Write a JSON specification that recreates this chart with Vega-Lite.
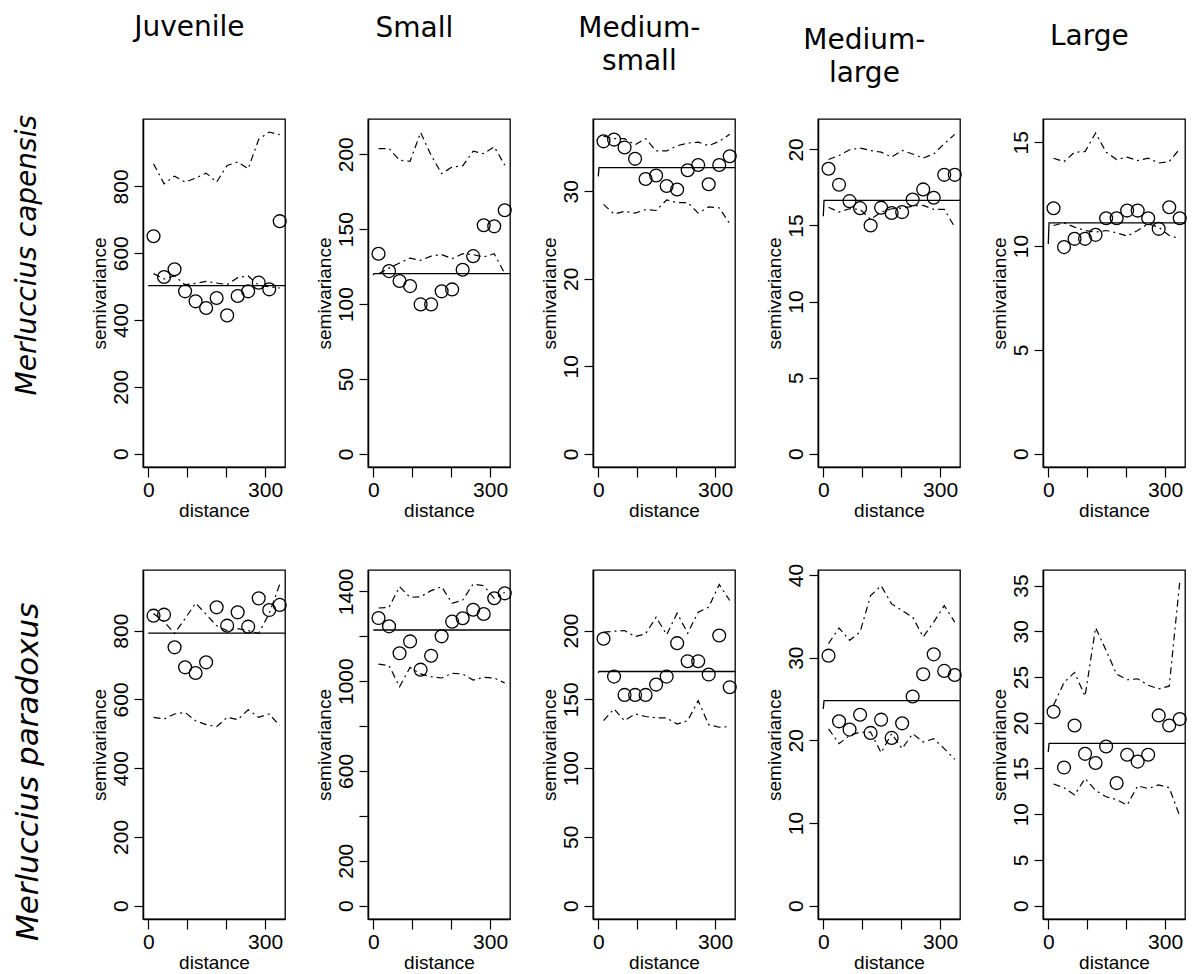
{
"$schema":"https://vega.github.io/schema/vega-lite/v6.json",
"background":"white",
"autosize":{"type":"pad"},
"padding":{"left":13,"top":13,"right":3,"bottom":0},
"spacing":40,
"datasets":{
"bins":[
{"p":"a1","d":13.5,"g":651,"u":868,"l":539},{"p":"a1","d":40.5,"g":529,"u":808,"l":523},{"p":"a1","d":67.5,"g":552,"u":831,"l":532},{"p":"a1","d":94.5,"g":486,"u":813,"l":506},{"p":"a1","d":121.5,"g":456,"u":825,"l":510},{"p":"a1","d":148.5,"g":436,"u":840,"l":516},{"p":"a1","d":175.5,"g":466,"u":813,"l":511},{"p":"a1","d":202.5,"g":414,"u":863,"l":506},{"p":"a1","d":229.5,"g":472,"u":873,"l":527},{"p":"a1","d":256.5,"g":486,"u":853,"l":532},{"p":"a1","d":283.5,"g":512,"u":941,"l":504},{"p":"a1","d":310.5,"g":492,"u":963,"l":500},{"p":"a1","d":337.5,"g":696,"u":955,"l":496},
{"p":"a2","d":13.5,"g":133.6,"u":203.8,"l":120.3},{"p":"a2","d":40.5,"g":122,"u":203.8,"l":124},{"p":"a2","d":67.5,"g":115.4,"u":196,"l":127.4},{"p":"a2","d":94.5,"g":112,"u":195.3,"l":130.7},{"p":"a2","d":121.5,"g":99.8,"u":214.5,"l":129.2},{"p":"a2","d":148.5,"g":99.8,"u":199.3,"l":132},{"p":"a2","d":175.5,"g":108.5,"u":187,"l":133},{"p":"a2","d":202.5,"g":109.8,"u":191.5,"l":130.3},{"p":"a2","d":229.5,"g":122.9,"u":192.2,"l":133.6},{"p":"a2","d":256.5,"g":132,"u":202,"l":133},{"p":"a2","d":283.5,"g":152.6,"u":200.4,"l":131.4},{"p":"a2","d":310.5,"g":151.9,"u":205,"l":133.6},{"p":"a2","d":337.5,"g":162.6,"u":192.7,"l":120.3},
{"p":"a3","d":13.5,"g":35.7,"u":36.3,"l":28.5},{"p":"a3","d":40.5,"g":35.9,"u":36.0,"l":27.4},{"p":"a3","d":67.5,"g":35.0,"u":36.0,"l":27.7},{"p":"a3","d":94.5,"g":33.7,"u":35.3,"l":27.5},{"p":"a3","d":121.5,"g":31.4,"u":36.0,"l":27.9},{"p":"a3","d":148.5,"g":31.8,"u":34.6,"l":27.8},{"p":"a3","d":175.5,"g":30.6,"u":34.6,"l":29.0},{"p":"a3","d":202.5,"g":30.2,"u":35.2,"l":28.7},{"p":"a3","d":229.5,"g":32.4,"u":35.5,"l":28.7},{"p":"a3","d":256.5,"g":33.0,"u":35.6,"l":27.5},{"p":"a3","d":283.5,"g":30.8,"u":35.2,"l":28.2},{"p":"a3","d":310.5,"g":33.0,"u":35.7,"l":28.1},{"p":"a3","d":337.5,"g":34.0,"u":36.5,"l":26.3},
{"p":"a4","d":13.5,"g":18.73,"u":19.34,"l":16.2},{"p":"a4","d":40.5,"g":17.68,"u":19.6,"l":15.88},{"p":"a4","d":67.5,"g":16.6,"u":19.98,"l":16.1},{"p":"a4","d":94.5,"g":16.14,"u":20.09,"l":16.06},{"p":"a4","d":121.5,"g":15.0,"u":19.93,"l":15.4},{"p":"a4","d":148.5,"g":16.17,"u":19.82,"l":15.88},{"p":"a4","d":175.5,"g":15.82,"u":19.5,"l":16.1},{"p":"a4","d":202.5,"g":15.88,"u":19.93,"l":16.14},{"p":"a4","d":229.5,"g":16.71,"u":19.7,"l":16.27},{"p":"a4","d":256.5,"g":17.37,"u":19.43,"l":16.32},{"p":"a4","d":283.5,"g":16.82,"u":19.7,"l":16.06},{"p":"a4","d":310.5,"g":18.33,"u":20.37,"l":16.06},{"p":"a4","d":337.5,"g":18.33,"u":20.99,"l":14.9},
{"p":"a5","d":13.5,"g":11.82,"u":14.23,"l":10.99},{"p":"a5","d":40.5,"g":9.95,"u":14.07,"l":11.12},{"p":"a5","d":67.5,"g":10.35,"u":14.52,"l":10.91},{"p":"a5","d":94.5,"g":10.35,"u":14.55,"l":10.75},{"p":"a5","d":121.5,"g":10.54,"u":15.45,"l":10.67},{"p":"a5","d":148.5,"g":11.34,"u":14.52,"l":10.75},{"p":"a5","d":175.5,"g":11.34,"u":14.17,"l":10.64},{"p":"a5","d":202.5,"g":11.71,"u":14.28,"l":10.48},{"p":"a5","d":229.5,"g":11.71,"u":14.12,"l":10.75},{"p":"a5","d":256.5,"g":11.34,"u":14.23,"l":11.07},{"p":"a5","d":283.5,"g":10.83,"u":14.0,"l":10.91},{"p":"a5","d":310.5,"g":11.87,"u":14.07,"l":10.51},{"p":"a5","d":337.5,"g":11.34,"u":14.68,"l":10.35},
{"p":"b1","d":13.5,"g":843.6,"u":850,"l":548},{"p":"b1","d":40.5,"g":846.5,"u":826,"l":543},{"p":"b1","d":67.5,"g":751.5,"u":792,"l":557.6},{"p":"b1","d":94.5,"g":693.3,"u":835,"l":562},{"p":"b1","d":121.5,"g":676.8,"u":880,"l":538},{"p":"b1","d":148.5,"g":707.9,"u":848,"l":526.5},{"p":"b1","d":175.5,"g":867.9,"u":814,"l":520.7},{"p":"b1","d":202.5,"g":814.5,"u":800,"l":548},{"p":"b1","d":229.5,"g":853.3,"u":806,"l":541},{"p":"b1","d":256.5,"g":811.6,"u":800,"l":570},{"p":"b1","d":283.5,"g":894,"u":792,"l":548},{"p":"b1","d":310.5,"g":860,"u":850,"l":557.6},{"p":"b1","d":337.5,"g":875,"u":935,"l":523.6},
{"p":"b2","d":13.5,"g":1281,"u":1325.7,"l":1076},{"p":"b2","d":40.5,"g":1244,"u":1328.7,"l":1069},{"p":"b2","d":67.5,"g":1124,"u":1420.7,"l":975},{"p":"b2","d":94.5,"g":1177,"u":1373,"l":1061},{"p":"b2","d":121.5,"g":1051,"u":1376,"l":1032},{"p":"b2","d":148.5,"g":1113,"u":1403,"l":1020},{"p":"b2","d":175.5,"g":1199.5,"u":1420.7,"l":1014},{"p":"b2","d":202.5,"g":1265,"u":1346.5,"l":1035},{"p":"b2","d":229.5,"g":1280,"u":1361,"l":1032},{"p":"b2","d":256.5,"g":1318,"u":1432.6,"l":1005},{"p":"b2","d":283.5,"g":1299,"u":1425,"l":1017},{"p":"b2","d":310.5,"g":1369,"u":1369,"l":1014},{"p":"b2","d":337.5,"g":1391,"u":1395,"l":992},
{"p":"b3","d":13.5,"g":194,"u":198.8,"l":134.5},{"p":"b3","d":40.5,"g":166.5,"u":199.5,"l":143},{"p":"b3","d":67.5,"g":153.2,"u":200,"l":134.5},{"p":"b3","d":94.5,"g":153.2,"u":195.6,"l":139.4},{"p":"b3","d":121.5,"g":153.2,"u":197.6,"l":137.5},{"p":"b3","d":148.5,"g":160.7,"u":209.7,"l":136.5},{"p":"b3","d":175.5,"g":166.5,"u":197,"l":136.5},{"p":"b3","d":202.5,"g":190.8,"u":212.6,"l":132},{"p":"b3","d":229.5,"g":177.7,"u":198,"l":134.5},{"p":"b3","d":256.5,"g":177.7,"u":213.3,"l":149},{"p":"b3","d":283.5,"g":168,"u":217,"l":131.6},{"p":"b3","d":310.5,"g":196.4,"u":233.5,"l":129.7},{"p":"b3","d":337.5,"g":158.8,"u":221.8,"l":130.2},
{"p":"b4","d":13.5,"g":30.24,"u":31.7,"l":21.4},{"p":"b4","d":40.5,"g":22.3,"u":33.6,"l":19.6},{"p":"b4","d":67.5,"g":21.3,"u":32.1,"l":20.6},{"p":"b4","d":94.5,"g":23.1,"u":33.1,"l":21.0},{"p":"b4","d":121.5,"g":20.9,"u":37.5,"l":21.0},{"p":"b4","d":148.5,"g":22.5,"u":38.7,"l":18.5},{"p":"b4","d":175.5,"g":20.3,"u":36.5,"l":20.8},{"p":"b4","d":202.5,"g":22.06,"u":35.7,"l":19.0},{"p":"b4","d":229.5,"g":25.3,"u":34.9,"l":20.8},{"p":"b4","d":256.5,"g":28.0,"u":32.5,"l":19.8},{"p":"b4","d":283.5,"g":30.4,"u":34.3,"l":20.2},{"p":"b4","d":310.5,"g":28.4,"u":36.3,"l":19.0},{"p":"b4","d":337.5,"g":27.9,"u":34.3,"l":17.7},
{"p":"b5","d":13.5,"g":21.2,"u":21.9,"l":13.3},{"p":"b5","d":40.5,"g":15.1,"u":24.4,"l":12.9},{"p":"b5","d":67.5,"g":19.7,"u":25.5,"l":12.1},{"p":"b5","d":94.5,"g":16.6,"u":22.9,"l":13.9},{"p":"b5","d":121.5,"g":15.6,"u":30.4,"l":12.6},{"p":"b5","d":148.5,"g":17.4,"u":27.9,"l":11.9},{"p":"b5","d":175.5,"g":13.4,"u":25.3,"l":11.6},{"p":"b5","d":202.5,"g":16.5,"u":24.7,"l":11.0},{"p":"b5","d":229.5,"g":15.75,"u":24.8,"l":13.1},{"p":"b5","d":256.5,"g":16.5,"u":24.1,"l":12.8},{"p":"b5","d":283.5,"g":20.8,"u":23.7,"l":13.2},{"p":"b5","d":310.5,"g":19.7,"u":24.0,"l":12.9},{"p":"b5","d":337.5,"g":20.4,"u":35.4,"l":9.8}
],
"model":[
{"p":"a1","d":0,"v":502},{"p":"a1","d":2,"v":503},{"p":"a1","d":351,"v":503},
{"p":"a2","d":0,"v":119.3},{"p":"a2","d":2,"v":120.3},{"p":"a2","d":351,"v":120.3},
{"p":"a3","d":0,"v":31.7},{"p":"a3","d":2,"v":32.7},{"p":"a3","d":351,"v":32.7},
{"p":"a4","d":0,"v":15.6},{"p":"a4","d":2,"v":16.65},{"p":"a4","d":351,"v":16.65},
{"p":"a5","d":0,"v":10.1},{"p":"a5","d":2,"v":11.12},{"p":"a5","d":351,"v":11.12},
{"p":"b1","d":0,"v":792},{"p":"b1","d":2,"v":793},{"p":"b1","d":351,"v":793},
{"p":"b2","d":0,"v":1226.7},{"p":"b2","d":2,"v":1227.7},{"p":"b2","d":351,"v":1227.7},
{"p":"b3","d":0,"v":169.2},{"p":"b3","d":2,"v":170.2},{"p":"b3","d":351,"v":170.2},
{"p":"b4","d":0,"v":23.8},{"p":"b4","d":2,"v":24.8},{"p":"b4","d":351,"v":24.8},
{"p":"b5","d":0,"v":16.8},{"p":"b5","d":2,"v":17.75},{"p":"b5","d":351,"v":17.75}
]
},
"vconcat":[
{"bounds":"flush","spacing":83,
 "title":{"text":"Merluccius capensis","orient":"left","anchor":"middle","frame":"bounds","font":"DejaVu Sans","fontStyle":"italic","fontWeight":"normal","fontSize":28,"offset":47,"dx":12,"color":"black"},
 "hconcat":[
 {"width":142,"height":348,
  "title":{"text":"Juvenile","anchor":"middle","frame":"bounds","font":"DejaVu Sans","fontSize":28,"fontWeight":"normal","offset":77,"lineHeight":33,"color":"black"},
  "layer":[
  {"data":{"name":"bins"},"transform":[{"filter":"datum.p=='a1'"},{"fold":["u","l"]}],"mark":{"type":"line","color":"black","strokeWidth":1.2,"strokeDash":[7,4,2,4]},
   "encoding":{"x":{"field":"d","type":"quantitative","title":"distance","scale":{"domain":[-13.5,351],"nice":false,"zero":false},"axis":{"values":[0,50,100,150,200,250,300],"labelExpr":"datum.value % 150 == 0 ? datum.label : ''"}},
   "y":{"field":"value","type":"quantitative","title":"semivariance","scale":{"domain":[-40,1002],"nice":false,"zero":false},"axis":{"values":[0,200,400,600,800]}},"detail":{"field":"key"}}},
  {"data":{"name":"bins"},"transform":[{"filter":"datum.p=='a1'"}],"mark":{"type":"point","shape":"circle","filled":false,"size":165,"color":"black","strokeWidth":1.3,"opacity":1},
   "encoding":{"x":{"field":"d","type":"quantitative","title":"distance"},"y":{"field":"g","type":"quantitative","title":"semivariance"}}},
  {"data":{"name":"model"},"transform":[{"filter":"datum.p=='a1'"}],"mark":{"type":"line","color":"black","strokeWidth":1.3},
   "encoding":{"x":{"field":"d","type":"quantitative","title":"distance"},"y":{"field":"v","type":"quantitative","title":"semivariance"}}}
  ]},
 {"width":142,"height":348,
  "title":{"text":"Small","anchor":"middle","frame":"bounds","font":"DejaVu Sans","fontSize":28,"fontWeight":"normal","offset":76,"lineHeight":33,"color":"black"},
  "layer":[
  {"data":{"name":"bins"},"transform":[{"filter":"datum.p=='a2'"},{"fold":["u","l"]}],"mark":{"type":"line","color":"black","strokeWidth":1.2,"strokeDash":[7,4,2,4]},
   "encoding":{"x":{"field":"d","type":"quantitative","title":"distance","scale":{"domain":[-13.5,351],"nice":false,"zero":false},"axis":{"values":[0,50,100,150,200,250,300],"labelExpr":"datum.value % 150 == 0 ? datum.label : ''"}},
   "y":{"field":"value","type":"quantitative","title":"semivariance","scale":{"domain":[-8.7,223.5],"nice":false,"zero":false},"axis":{"values":[0,50,100,150,200]}},"detail":{"field":"key"}}},
  {"data":{"name":"bins"},"transform":[{"filter":"datum.p=='a2'"}],"mark":{"type":"point","shape":"circle","filled":false,"size":165,"color":"black","strokeWidth":1.3,"opacity":1},
   "encoding":{"x":{"field":"d","type":"quantitative","title":"distance"},"y":{"field":"g","type":"quantitative","title":"semivariance"}}},
  {"data":{"name":"model"},"transform":[{"filter":"datum.p=='a2'"}],"mark":{"type":"line","color":"black","strokeWidth":1.3},
   "encoding":{"x":{"field":"d","type":"quantitative","title":"distance"},"y":{"field":"v","type":"quantitative","title":"semivariance"}}}
  ]},
 {"width":142,"height":348,
  "title":{"text":["Medium-","small"],"anchor":"middle","frame":"bounds","font":"DejaVu Sans","fontSize":28,"fontWeight":"normal","offset":43,"lineHeight":33,"color":"black"},
  "layer":[
  {"data":{"name":"bins"},"transform":[{"filter":"datum.p=='a3'"},{"fold":["u","l"]}],"mark":{"type":"line","color":"black","strokeWidth":1.2,"strokeDash":[7,4,2,4]},
   "encoding":{"x":{"field":"d","type":"quantitative","title":"distance","scale":{"domain":[-13.5,351],"nice":false,"zero":false},"axis":{"values":[0,50,100,150,200,250,300],"labelExpr":"datum.value % 150 == 0 ? datum.label : ''"}},
   "y":{"field":"value","type":"quantitative","title":"semivariance","scale":{"domain":[-1.5,38.25],"nice":false,"zero":false},"axis":{"values":[0,10,20,30]}},"detail":{"field":"key"}}},
  {"data":{"name":"bins"},"transform":[{"filter":"datum.p=='a3'"}],"mark":{"type":"point","shape":"circle","filled":false,"size":165,"color":"black","strokeWidth":1.3,"opacity":1},
   "encoding":{"x":{"field":"d","type":"quantitative","title":"distance"},"y":{"field":"g","type":"quantitative","title":"semivariance"}}},
  {"data":{"name":"model"},"transform":[{"filter":"datum.p=='a3'"}],"mark":{"type":"line","color":"black","strokeWidth":1.3},
   "encoding":{"x":{"field":"d","type":"quantitative","title":"distance"},"y":{"field":"v","type":"quantitative","title":"semivariance"}}}
  ]},
 {"width":142,"height":348,
  "title":{"text":["Medium-","large"],"anchor":"middle","frame":"bounds","font":"DejaVu Sans","fontSize":28,"fontWeight":"normal","offset":31,"lineHeight":33,"color":"black"},
  "layer":[
  {"data":{"name":"bins"},"transform":[{"filter":"datum.p=='a4'"},{"fold":["u","l"]}],"mark":{"type":"line","color":"black","strokeWidth":1.2,"strokeDash":[7,4,2,4]},
   "encoding":{"x":{"field":"d","type":"quantitative","title":"distance","scale":{"domain":[-13.5,351],"nice":false,"zero":false},"axis":{"values":[0,50,100,150,200,250,300],"labelExpr":"datum.value % 150 == 0 ? datum.label : ''"}},
   "y":{"field":"value","type":"quantitative","title":"semivariance","scale":{"domain":[-0.88,22.0],"nice":false,"zero":false},"axis":{"values":[0,5,10,15,20]}},"detail":{"field":"key"}}},
  {"data":{"name":"bins"},"transform":[{"filter":"datum.p=='a4'"}],"mark":{"type":"point","shape":"circle","filled":false,"size":165,"color":"black","strokeWidth":1.3,"opacity":1},
   "encoding":{"x":{"field":"d","type":"quantitative","title":"distance"},"y":{"field":"g","type":"quantitative","title":"semivariance"}}},
  {"data":{"name":"model"},"transform":[{"filter":"datum.p=='a4'"}],"mark":{"type":"line","color":"black","strokeWidth":1.3},
   "encoding":{"x":{"field":"d","type":"quantitative","title":"distance"},"y":{"field":"v","type":"quantitative","title":"semivariance"}}}
  ]},
 {"width":142,"height":348,
  "title":{"text":"Large","anchor":"middle","frame":"bounds","font":"DejaVu Sans","fontSize":28,"fontWeight":"normal","offset":68,"lineHeight":33,"color":"black"},
  "layer":[
  {"data":{"name":"bins"},"transform":[{"filter":"datum.p=='a5'"},{"fold":["u","l"]}],"mark":{"type":"line","color":"black","strokeWidth":1.2,"strokeDash":[7,4,2,4]},
   "encoding":{"x":{"field":"d","type":"quantitative","title":"distance","scale":{"domain":[-13.5,351],"nice":false,"zero":false},"axis":{"values":[0,50,100,150,200,250,300],"labelExpr":"datum.value % 150 == 0 ? datum.label : ''"}},
   "y":{"field":"value","type":"quantitative","title":"semivariance","scale":{"domain":[-0.64,16.12],"nice":false,"zero":false},"axis":{"values":[0,5,10,15]}},"detail":{"field":"key"}}},
  {"data":{"name":"bins"},"transform":[{"filter":"datum.p=='a5'"}],"mark":{"type":"point","shape":"circle","filled":false,"size":165,"color":"black","strokeWidth":1.3,"opacity":1},
   "encoding":{"x":{"field":"d","type":"quantitative","title":"distance"},"y":{"field":"g","type":"quantitative","title":"semivariance"}}},
  {"data":{"name":"model"},"transform":[{"filter":"datum.p=='a5'"}],"mark":{"type":"line","color":"black","strokeWidth":1.3},
   "encoding":{"x":{"field":"d","type":"quantitative","title":"distance"},"y":{"field":"v","type":"quantitative","title":"semivariance"}}}
  ]}
 ]},
{"bounds":"flush","spacing":83,
 "title":{"text":"Merluccius paradoxus","orient":"left","anchor":"middle","frame":"bounds","font":"DejaVu Sans","fontStyle":"italic","fontWeight":"normal","fontSize":31,"offset":44,"dx":-4,"color":"black"},
 "hconcat":[
 {"width":142,"height":349,
  "layer":[
  {"data":{"name":"bins"},"transform":[{"filter":"datum.p=='b1'"},{"fold":["u","l"]}],"mark":{"type":"line","color":"black","strokeWidth":1.2,"strokeDash":[7,4,2,4]},
   "encoding":{"x":{"field":"d","type":"quantitative","title":"distance","scale":{"domain":[-13.5,351],"nice":false,"zero":false},"axis":{"values":[0,50,100,150,200,250,300],"labelExpr":"datum.value % 150 == 0 ? datum.label : ''"}},
   "y":{"field":"value","type":"quantitative","title":"semivariance","scale":{"domain":[-38.8,976.5],"nice":false,"zero":false},"axis":{"values":[0,200,400,600,800]}},"detail":{"field":"key"}}},
  {"data":{"name":"bins"},"transform":[{"filter":"datum.p=='b1'"}],"mark":{"type":"point","shape":"circle","filled":false,"size":165,"color":"black","strokeWidth":1.3,"opacity":1},
   "encoding":{"x":{"field":"d","type":"quantitative","title":"distance"},"y":{"field":"g","type":"quantitative","title":"semivariance"}}},
  {"data":{"name":"model"},"transform":[{"filter":"datum.p=='b1'"}],"mark":{"type":"line","color":"black","strokeWidth":1.3},
   "encoding":{"x":{"field":"d","type":"quantitative","title":"distance"},"y":{"field":"v","type":"quantitative","title":"semivariance"}}}
  ]},
 {"width":142,"height":349,
  "layer":[
  {"data":{"name":"bins"},"transform":[{"filter":"datum.p=='b2'"},{"fold":["u","l"]}],"mark":{"type":"line","color":"black","strokeWidth":1.2,"strokeDash":[7,4,2,4]},
   "encoding":{"x":{"field":"d","type":"quantitative","title":"distance","scale":{"domain":[-13.5,351],"nice":false,"zero":false},"axis":{"values":[0,50,100,150,200,250,300],"labelExpr":"datum.value % 150 == 0 ? datum.label : ''"}},
   "y":{"field":"value","type":"quantitative","title":"semivariance","scale":{"domain":[-59.4,1495],"nice":false,"zero":false},"axis":{"values":[0,200,400,600,800,1000,1200,1400],"format":"d","labelExpr":"datum.value == 400 || datum.value == 800 || datum.value == 1200 ? '' : datum.label"}},"detail":{"field":"key"}}},
  {"data":{"name":"bins"},"transform":[{"filter":"datum.p=='b2'"}],"mark":{"type":"point","shape":"circle","filled":false,"size":165,"color":"black","strokeWidth":1.3,"opacity":1},
   "encoding":{"x":{"field":"d","type":"quantitative","title":"distance"},"y":{"field":"g","type":"quantitative","title":"semivariance"}}},
  {"data":{"name":"model"},"transform":[{"filter":"datum.p=='b2'"}],"mark":{"type":"line","color":"black","strokeWidth":1.3},
   "encoding":{"x":{"field":"d","type":"quantitative","title":"distance"},"y":{"field":"v","type":"quantitative","title":"semivariance"}}}
  ]},
 {"width":142,"height":349,
  "layer":[
  {"data":{"name":"bins"},"transform":[{"filter":"datum.p=='b3'"},{"fold":["u","l"]}],"mark":{"type":"line","color":"black","strokeWidth":1.2,"strokeDash":[7,4,2,4]},
   "encoding":{"x":{"field":"d","type":"quantitative","title":"distance","scale":{"domain":[-13.5,351],"nice":false,"zero":false},"axis":{"values":[0,50,100,150,200,250,300],"labelExpr":"datum.value % 150 == 0 ? datum.label : ''"}},
   "y":{"field":"value","type":"quantitative","title":"semivariance","scale":{"domain":[-9.7,244],"nice":false,"zero":false},"axis":{"values":[0,50,100,150,200]}},"detail":{"field":"key"}}},
  {"data":{"name":"bins"},"transform":[{"filter":"datum.p=='b3'"}],"mark":{"type":"point","shape":"circle","filled":false,"size":165,"color":"black","strokeWidth":1.3,"opacity":1},
   "encoding":{"x":{"field":"d","type":"quantitative","title":"distance"},"y":{"field":"g","type":"quantitative","title":"semivariance"}}},
  {"data":{"name":"model"},"transform":[{"filter":"datum.p=='b3'"}],"mark":{"type":"line","color":"black","strokeWidth":1.3},
   "encoding":{"x":{"field":"d","type":"quantitative","title":"distance"},"y":{"field":"v","type":"quantitative","title":"semivariance"}}}
  ]},
 {"width":142,"height":349,
  "layer":[
  {"data":{"name":"bins"},"transform":[{"filter":"datum.p=='b4'"},{"fold":["u","l"]}],"mark":{"type":"line","color":"black","strokeWidth":1.2,"strokeDash":[7,4,2,4]},
   "encoding":{"x":{"field":"d","type":"quantitative","title":"distance","scale":{"domain":[-13.5,351],"nice":false,"zero":false},"axis":{"values":[0,50,100,150,200,250,300],"labelExpr":"datum.value % 150 == 0 ? datum.label : ''"}},
   "y":{"field":"value","type":"quantitative","title":"semivariance","scale":{"domain":[-1.6,40.6],"nice":false,"zero":false},"axis":{"values":[0,10,20,30,40]}},"detail":{"field":"key"}}},
  {"data":{"name":"bins"},"transform":[{"filter":"datum.p=='b4'"}],"mark":{"type":"point","shape":"circle","filled":false,"size":165,"color":"black","strokeWidth":1.3,"opacity":1},
   "encoding":{"x":{"field":"d","type":"quantitative","title":"distance"},"y":{"field":"g","type":"quantitative","title":"semivariance"}}},
  {"data":{"name":"model"},"transform":[{"filter":"datum.p=='b4'"}],"mark":{"type":"line","color":"black","strokeWidth":1.3},
   "encoding":{"x":{"field":"d","type":"quantitative","title":"distance"},"y":{"field":"v","type":"quantitative","title":"semivariance"}}}
  ]},
 {"width":142,"height":349,
  "layer":[
  {"data":{"name":"bins"},"transform":[{"filter":"datum.p=='b5'"},{"fold":["u","l"]}],"mark":{"type":"line","color":"black","strokeWidth":1.2,"strokeDash":[7,4,2,4]},
   "encoding":{"x":{"field":"d","type":"quantitative","title":"distance","scale":{"domain":[-13.5,351],"nice":false,"zero":false},"axis":{"values":[0,50,100,150,200,250,300],"labelExpr":"datum.value % 150 == 0 ? datum.label : ''"}},
   "y":{"field":"value","type":"quantitative","title":"semivariance","scale":{"domain":[-1.46,36.7],"nice":false,"zero":false},"axis":{"values":[0,5,10,15,20,25,30,35]}},"detail":{"field":"key"}}},
  {"data":{"name":"bins"},"transform":[{"filter":"datum.p=='b5'"}],"mark":{"type":"point","shape":"circle","filled":false,"size":165,"color":"black","strokeWidth":1.3,"opacity":1},
   "encoding":{"x":{"field":"d","type":"quantitative","title":"distance"},"y":{"field":"g","type":"quantitative","title":"semivariance"}}},
  {"data":{"name":"model"},"transform":[{"filter":"datum.p=='b5'"}],"mark":{"type":"line","color":"black","strokeWidth":1.3},
   "encoding":{"x":{"field":"d","type":"quantitative","title":"distance"},"y":{"field":"v","type":"quantitative","title":"semivariance"}}}
  ]}
 ]}
],
"config":{
 "view":{"stroke":"black","strokeWidth":1.3},
 "axis":{"grid":false,"domain":true,"domainColor":"black","domainWidth":1.5,"tickColor":"black","tickWidth":1.2,"labelColor":"black","titleColor":"black","labelFont":"Liberation Sans","titleFont":"Liberation Sans","labelFontSize":21,"titleFontSize":19,"titleFontWeight":"normal","labelOverlap":false,"labelFlush":false},
 "axisX":{"tickSize":10,"labelPadding":2.5,"titlePadding":1},
 "axisY":{"tickSize":9,"labelPadding":7,"titlePadding":1,"labelAngle":-90,"labelAlign":"center","labelBaseline":"alphabetic"}
}
}
